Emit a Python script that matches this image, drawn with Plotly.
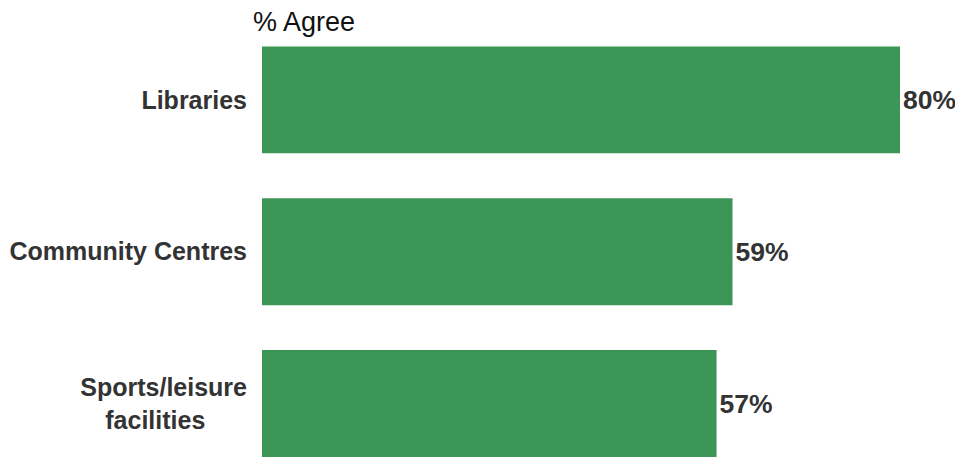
import plotly.graph_objects as go

categories = ["Libraries", "Community Centres", "Sports/leisure facilities"]
# second line padded with no-break spaces so it sits centred under the first
tick_labels = ["Libraries", "Community Centres",
               "Sports/leisure<br>facilities" + "\u00a0" * 6]
agree = [80, 59, 57]

bar_color = "#3c9756"
text_color = "#333333"
font_family = "Liberation Sans, Arial, sans-serif"

fig = go.Figure()

fig.add_trace(
    go.Bar(
        x=agree,
        y=categories,
        orientation="h",
        marker=dict(color=bar_color, line=dict(width=0)),
        texttemplate="%{x}%",
        textposition="outside",
        outsidetextfont=dict(family=font_family, size=26.5, color=text_color, weight="bold"),
        constraintext="none",
        cliponaxis=False,
        hoverinfo="skip",
    )
)

# the page body has an 8px margin, so the figure sits 8px down/right
fig.update_layout(
    width=955,
    height=449,
    margin=dict(l=254, r=0, t=15.5, b=0),
    paper_bgcolor="white",
    plot_bgcolor="white",
    bargap=0.296,
    showlegend=False,
    xaxis=dict(range=[0, 87.9], visible=False, fixedrange=True),
    yaxis=dict(
        range=[2.352, -0.5],
        tickmode="array",
        tickvals=categories,
        ticktext=tick_labels,
        tickfont=dict(family=font_family, size=25, color=text_color, weight="bold"),
        ticks="",
        showline=False,
        showgrid=False,
        zeroline=False,
        ticklabelstandoff=14,
        fixedrange=True,
    ),
    annotations=[
        dict(
            text="% Agree",
            xref="paper",
            yref="paper",
            x=0,
            y=1,
            xanchor="left",
            yanchor="bottom",
            xshift=-11,
            yshift=-15,
            showarrow=False,
            font=dict(family=font_family, size=27, color="#111111"),
        ),
    ],
)

fig.write_html("out.html")
